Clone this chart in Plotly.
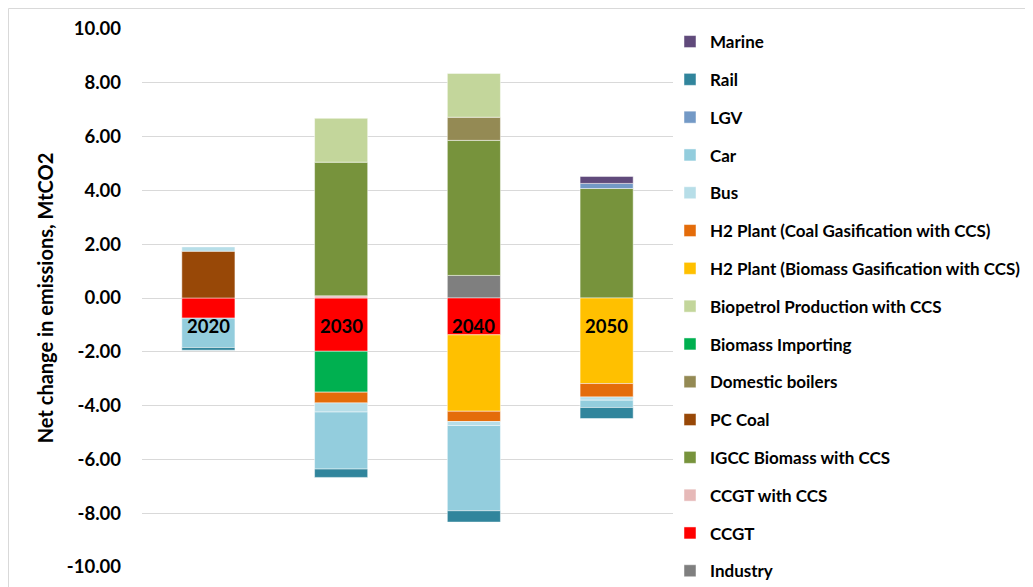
import plotly.graph_objects as go

years = ["2020", "2030", "2040", "2050"]

# series in stacking order (first = nearest zero)
series_names = [
    "Industry", "CCGT", "CCGT with CCS", "IGCC Biomass with CCS", "PC Coal",
    "Domestic boilers", "Biomass Importing", "Biopetrol Production with CCS",
    "H2 Plant (Biomass Gasification with CCS)", "H2 Plant (Coal Gasification with CCS)",
    "Bus", "Car", "LGV", "Rail", "Marine",
]
industry = [None, None, 0.84, None]
ccgt = [-0.75, -1.98, -1.37, None]
ccgt_ccs = [None, 0.08, None, None]
igcc = [None, 4.97, 5.02, 4.07]
pc_coal = [1.74, None, None, None]
domestic = [None, None, 0.86, None]
biomass_imp = [None, -1.52, None, None]
biopetrol = [None, 1.63, 1.63, None]
h2_biomass = [None, None, -2.84, -3.18]
h2_coal = [None, -0.40, -0.38, -0.50]
bus = [0.16, -0.34, -0.15, -0.12]
car = [-1.09, -2.12, -3.17, -0.27]
lgv = [None, None, None, 0.19]
rail = [-0.10, -0.31, -0.42, -0.41]
marine = [None, None, None, 0.26]

series_values = [industry, ccgt, ccgt_ccs, igcc, pc_coal, domestic, biomass_imp,
                 biopetrol, h2_biomass, h2_coal, bus, car, lgv, rail, marine]
colors = ["#7f7f7f", "#ff0000", "#e6b9b8", "#77933c", "#984807", "#948a54",
          "#00b050", "#c3d69b", "#ffc000", "#e46c0a", "#b7dee8", "#93cddd",
          "#7399c6", "#31859c", "#604a7b"]

label_y = [-1.04, -1.04, -1.04, -1.04]
y_ticks = [10, 8, 6, 4, 2, 0, -2, -4, -6, -8, -10]

FONT = "Lato"
W, H = 1025, 579
L, R, T, B = 134, 360, 21, 20
PW, PH = W - L - R, H - T - B

fig = go.Figure()
n = len(series_names)
for i, (name, vals, col) in enumerate(zip(series_names, series_values, colors)):
    fig.add_trace(go.Bar(
        x=years, y=vals, name=name, legendgroup=name,
        legendrank=100 + (n - i),
        marker=dict(color=col, line=dict(color="rgba(255,255,255,0.6)", width=0.8)),
    ))

for i, (yr, ly) in enumerate(zip(years, label_y)):
    fig.add_annotation(x=i, y=ly, text=yr, showarrow=False,
                       font=dict(family=FONT, size=18.5, color="black", weight="bold"))

fig.update_layout(
    width=W, height=H,
    barmode="relative", bargap=0.6,
    plot_bgcolor="white", paper_bgcolor="white",
    margin=dict(l=L, r=R, t=T, b=B, autoexpand=False),
    font=dict(family=FONT, color="black"),
    legend=dict(
        x=(662 - L) / PW, y=1 + 5 / PH, xanchor="left", yanchor="top",
        traceorder="grouped", tracegroupgap=12.7,
        font=dict(family=FONT, size=17, color="black", weight="bold"),
        itemwidth=30, bgcolor="rgba(0,0,0,0)", maxheight=H,
    ),
    xaxis=dict(type="category", range=[-0.5, 3.5], autorange=False,
               showticklabels=False, showgrid=False, showline=False, zeroline=False),
    yaxis=dict(
        range=[-10, 10], tickvals=y_ticks,
        ticktext=["%.2f" % v for v in y_ticks],
        tickfont=dict(family=FONT, size=18.5, color="black", weight="bold"),
        showgrid=True, gridcolor="#d9d9d9", gridwidth=1.3,
        zeroline=False, showline=False, ticks="", ticklabelstandoff=20,
        title=dict(text="Net change in emissions, MtCO2",
                   font=dict(family=FONT, size=20, color="black", weight="bold"),
                   standoff=7),
    ),
)

fig.add_shape(type="rect", xref="paper", yref="paper",
              x0=-(L - 0.5) / PW, x1=(W - 1 - L) / PW,
              y0=-(B + 5) / PH, y1=1 + (T - 0.5) / PH,
              line=dict(color="#d9d9d9", width=1), layer="below")

fig.write_html("out.html")
